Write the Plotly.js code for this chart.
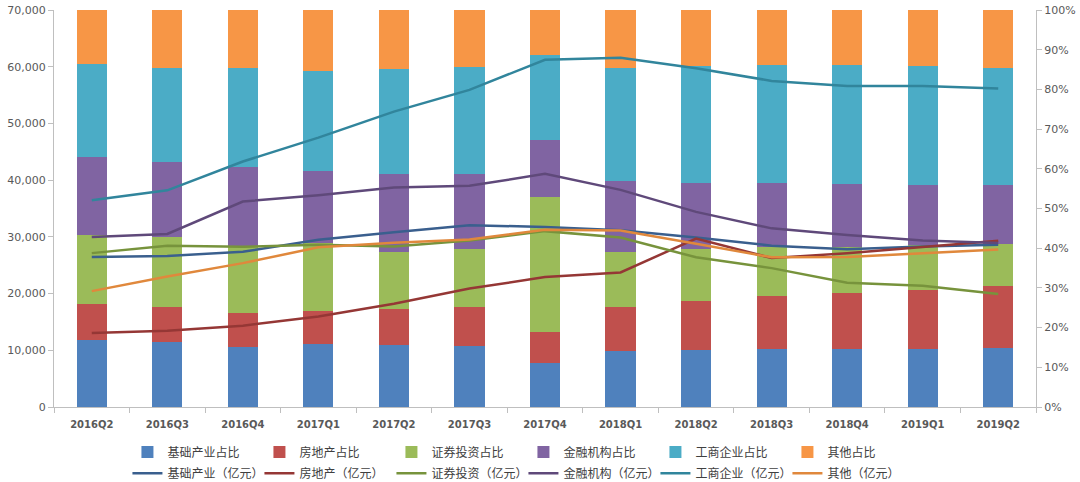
<!DOCTYPE html>
<html>
<head>
<meta charset="utf-8">
<script src="https://cdn.plot.ly/plotly-3.0.1.min.js"></script>
<style>
html,body{margin:0;padding:0;background:#fff;}
#chart{width:1080px;height:482px;}
</style>
</head>
<body>
<div id="chart"></div>
<script>
const categories = ["2016Q2","2016Q3","2016Q4","2017Q1","2017Q2","2017Q3","2017Q4","2018Q1","2018Q2","2018Q3","2018Q4","2019Q1","2019Q2"];

// Share of each sector (%)
const shareInfra   = [17.0,16.4,15.2,15.9,15.6,15.4,11.0,14.2,14.4,14.6,14.5,14.5,14.8];
const shareRealty  = [ 8.9, 8.7, 8.6, 8.4, 9.0, 9.9, 8.0,11.1,12.4,13.4,14.3,15.0,15.8];
const shareSecur   = [17.4,17.6,16.8,17.1,14.5,14.4,34.0,13.8,12.9,12.4,11.6,11.3,10.5];
const shareFinInst = [19.6,19.1,19.9,18.0,19.6,19.0,14.3,17.8,16.8,16.1,15.8,15.1,14.8];
const shareCorp    = [23.6,23.6,24.8,25.3,26.4,26.9,21.4,28.4,29.4,29.6,29.9,30.0,29.5];
const shareOther   = [13.5,14.6,14.7,15.3,14.9,14.4,11.3,14.7,14.1,13.9,13.9,14.1,14.6];

// Amounts (亿元)
const amtInfra   = [26450,26640,27380,29480,30800,32060,31740,31180,29870,28450,27800,28300,28600];
const amtRealty  = [13040,13440,14330,15970,18200,20880,22910,23720,29700,26260,27100,28250,29330];
const amtSecur   = [27130,28420,28250,28600,28300,29360,31010,29870,26400,24490,21900,21370,19930];
const amtFinInst = [29980,30510,36230,37320,38700,39000,41110,38290,34400,31500,30330,29360,28900];
const amtCorp    = [36440,38200,43280,47500,52090,55910,61230,61600,59740,57500,56620,56620,56140];
const amtOther   = [20430,23010,25370,28150,28950,29540,31240,31100,28800,26400,26430,27130,27780];

const barNames  = ["基础产业占比","房地产占比","证券投资占比","金融机构占比","工商企业占比","其他占比"];
const lineNames = ["基础产业（亿元）","房地产（亿元）","证券投资（亿元）","金融机构（亿元）","工商企业（亿元）","其他（亿元）"];
const barColors  = ["#4F81BD","#C0504D","#9BBB59","#8064A2","#4BACC6","#F79646"];
const lineColors = ["#3A5F8E","#953735","#77933C","#5F497A","#31859C","#E0883C"];

const shares = [shareInfra, shareRealty, shareSecur, shareFinInst, shareCorp, shareOther];
const amts   = [amtInfra, amtRealty, amtSecur, amtFinInst, amtCorp, amtOther];

const traces = [];
shares.forEach((s,i)=>{
  traces.push({
    type:'bar', x:categories, y:s, name:barNames[i],
    marker:{color:barColors[i], line:{width:0}},
    yaxis:'y', xaxis:'x', legend:'legend', hoverinfo:'skip'
  });
});
amts.forEach((a,i)=>{
  traces.push({
    type:'scatter', mode:'lines', x:categories, y:a, name:lineNames[i],
    line:{color:lineColors[i], width:2.5},
    yaxis:'y2', xaxis:'x', legend:'legend2', hoverinfo:'skip'
  });
});

const tickFont = {family:'DejaVu Sans, Verdana, sans-serif', size:11, color:'#595959'};
const legFont = {family:'Noto Sans CJK SC, sans-serif', size:12, color:'#404040'};

const layout = {
  width:1080, height:482,
  margin:{l:54, r:44, t:10, b:75},
  paper_bgcolor:'#ffffff', plot_bgcolor:'#ffffff',
  barmode:'stack', bargap:0.6,
  showlegend:true,
  xaxis:{
    type:'category', tickson:'boundaries', ticks:'outside', ticklen:5, tickcolor:'#BFBFBF',
    showline:true, linecolor:'#BFBFBF', linewidth:1, showgrid:false, zeroline:false,
    tickfont:{family:'DejaVu Sans, Verdana, sans-serif', size:10, color:'#595959', weight:'bold'},
    ticklabelstandoff:8,
    range:[-0.5,12.5]
  },
  yaxis:{
    side:'right', range:[0,100], dtick:10, ticksuffix:'%',
    ticks:'outside', ticklen:5, tickcolor:'#BFBFBF',
    showline:true, linecolor:'#BFBFBF', linewidth:1, showgrid:false, zeroline:false,
    tickfont:tickFont
  },
  yaxis2:{
    side:'left', overlaying:'y', range:[0,70000], dtick:10000, tickformat:',d',
    ticks:'outside', ticklen:5, tickcolor:'#BFBFBF',
    showline:true, linecolor:'#BFBFBF', linewidth:1, showgrid:false, zeroline:false,
    tickfont:tickFont
  },
  legend:{
    orientation:'h', xref:'container', yref:'container', x:0.118, xanchor:'left',
    y:0.062, yanchor:'middle', entrywidth:87, entrywidthmode:'pixels', itemwidth:30,
    font:legFont, bgcolor:'rgba(0,0,0,0)', traceorder:'normal', tracegroupgap:0
  },
  legend2:{
    orientation:'h', xref:'container', yref:'container', x:0.118, xanchor:'left',
    y:0.018, yanchor:'middle', entrywidth:87, entrywidthmode:'pixels', itemwidth:30,
    font:legFont, bgcolor:'rgba(0,0,0,0)', traceorder:'normal', tracegroupgap:0
  }
};

Plotly.newPlot('chart', traces, layout, {displayModeBar:false, staticPlot:true});
</script>
</body>
</html>
